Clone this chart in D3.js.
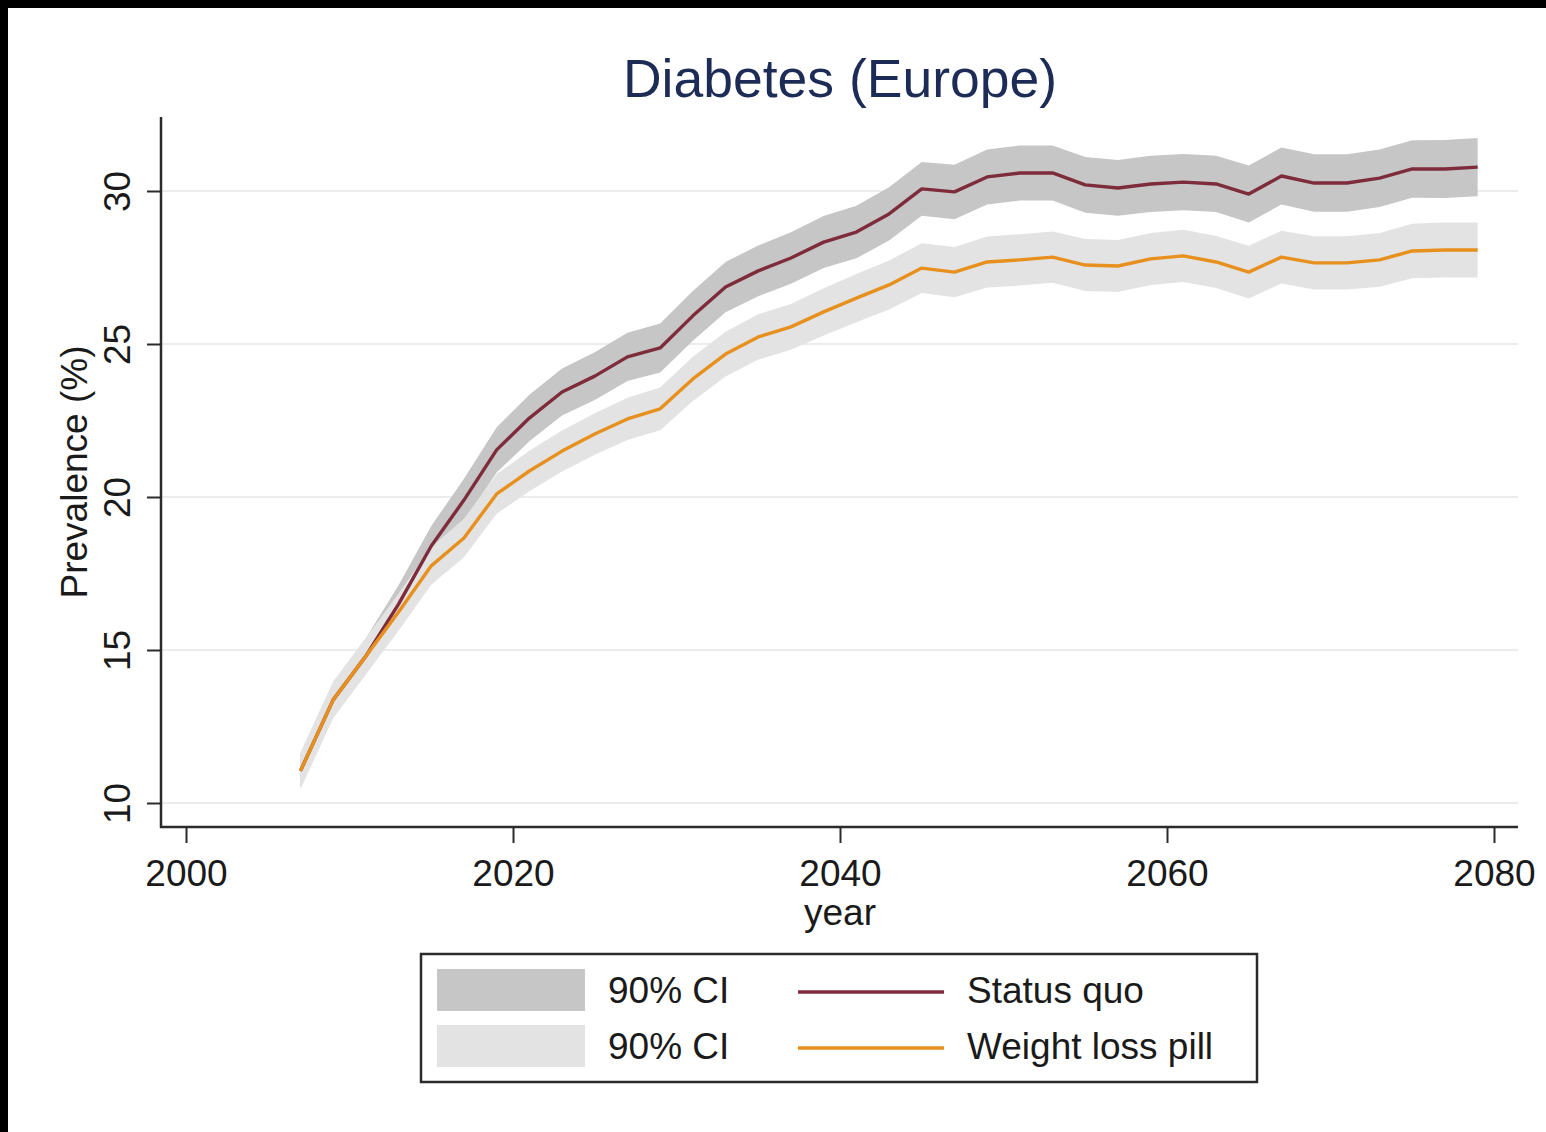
<!DOCTYPE html>
<html>
<head>
<meta charset="utf-8">
<script src="https://cdn.jsdelivr.net/npm/d3@7"></script>
<style>
  html, body { margin: 0; padding: 0; background: #fff; }
  svg { display: block; }
  text { font-family: "Liberation Sans", Arial, Helvetica, sans-serif; }
</style>
</head>
<body>
<svg id="chart" width="1546" height="1132"></svg>
<script>
// Simulated diabetes prevalence (%) in Europe, two scenarios, every other year
const years = [2007, 2009, 2011, 2013, 2015, 2017, 2019, 2021, 2023, 2025, 2027, 2029,
  2031, 2033, 2035, 2037, 2039, 2041, 2043, 2045, 2047, 2049, 2051, 2053, 2055, 2057,
  2059, 2061, 2063, 2065, 2067, 2069, 2071, 2073, 2075, 2077, 2079];

const statusQuo = [11.05, 13.37, 14.80, 16.50, 18.40, 19.90, 21.54, 22.58, 23.43, 23.95, 24.58, 24.87,
  25.92, 26.86, 27.39, 27.81, 28.33, 28.66, 29.25, 30.07, 29.97, 30.46, 30.59, 30.59, 30.20, 30.10,
  30.23, 30.29, 30.23, 29.90, 30.49, 30.26, 30.26, 30.42, 30.72, 30.72, 30.78];
const statusQuoLo = [10.50, 12.82, 14.22, 15.88, 17.75, 19.20, 20.80, 21.82, 22.66, 23.17, 23.79, 24.07,
  25.11, 26.04, 26.56, 26.97, 27.48, 27.80, 28.38, 29.19, 29.08, 29.56, 29.69, 29.69, 29.29, 29.19,
  29.31, 29.37, 29.31, 28.97, 29.56, 29.32, 29.32, 29.48, 29.78, 29.77, 29.83];
const statusQuoHi = [11.60, 13.92, 15.38, 17.12, 19.05, 20.60, 22.28, 23.34, 24.20, 24.73, 25.37, 25.67,
  26.73, 27.68, 28.22, 28.65, 29.18, 29.52, 30.12, 30.95, 30.86, 31.36, 31.49, 31.49, 31.11, 31.01,
  31.15, 31.21, 31.15, 30.83, 31.42, 31.20, 31.20, 31.36, 31.66, 31.67, 31.73];

const weightLossPill = [11.05, 13.37, 14.80, 16.24, 17.75, 18.66, 20.10, 20.85, 21.50, 22.06, 22.55, 22.88,
  23.86, 24.67, 25.23, 25.56, 26.05, 26.50, 26.93, 27.48, 27.35, 27.68, 27.75, 27.84, 27.58, 27.55,
  27.78, 27.88, 27.68, 27.35, 27.84, 27.65, 27.65, 27.75, 28.04, 28.07, 28.07];
const weightLossPillLo = [10.45, 12.77, 14.20, 15.63, 17.13, 18.03, 19.45, 20.19, 20.83, 21.38, 21.86, 22.18,
  23.14, 23.94, 24.49, 24.81, 25.28, 25.71, 26.13, 26.67, 26.53, 26.85, 26.91, 27.00, 26.73, 26.70,
  26.93, 27.03, 26.83, 26.49, 26.98, 26.78, 26.78, 26.87, 27.15, 27.17, 27.17];
const weightLossPillHi = [11.65, 13.97, 15.40, 16.85, 18.37, 19.29, 20.75, 21.51, 22.17, 22.74, 23.24, 23.58,
  24.58, 25.40, 25.97, 26.31, 26.82, 27.29, 27.73, 28.29, 28.17, 28.51, 28.59, 28.68, 28.43, 28.40,
  28.63, 28.73, 28.53, 28.21, 28.70, 28.52, 28.52, 28.63, 28.93, 28.97, 28.97];

const xTicks = [2000, 2020, 2040, 2060, 2080];
const yTicks = [10, 15, 20, 25, 30];

const titleText = "Diabetes (Europe)";
const xTitle = "year";
const yTitle = "Prevalence (%)";
const legendBands = ["90% CI", "90% CI"];
const legendLines = ["Status quo", "Weight loss pill"];

const C = {
  sqLine: "#7e2b3b",
  pillLine: "#e8901e",
  sqBand: "#c6c6c6",
  pillBand: "#e3e3e3",
  axis: "#2b2b2b",
  grid: "#ececec",
  title: "#1d2c56",
  text: "#1a1a1a"
};

const svg = d3.select("#chart");

// black frame strips along the top and left edges
svg.append("rect").attr("x", 0).attr("y", 0).attr("width", 1546).attr("height", 8).attr("fill", "#000");
svg.append("rect").attr("x", 0).attr("y", 0).attr("width", 8).attr("height", 1132).attr("fill", "#000");

// plot region
const plot = { left: 161, right: 1518, top: 117, bottom: 827 };

const x = d3.scaleLinear().domain([2000, 2080]).range([186, 1494]);
const y = d3.scaleLinear().domain([10, 30]).range([803, 191]);

// gridlines
svg.append("g").selectAll("line").data(yTicks).join("line")
  .attr("x1", plot.left).attr("x2", plot.right)
  .attr("y1", d => y(d)).attr("y2", d => y(d))
  .attr("stroke", C.grid).attr("stroke-width", 2);

const rows = years.map((yr, i) => ({
  year: yr,
  sq: statusQuo[i], sqLo: statusQuoLo[i], sqHi: statusQuoHi[i],
  wp: weightLossPill[i], wpLo: weightLossPillLo[i], wpHi: weightLossPillHi[i]
}));

const bandSq = d3.area().x(d => x(d.year)).y0(d => y(d.sqLo)).y1(d => y(d.sqHi));
const bandWp = d3.area().x(d => x(d.year)).y0(d => y(d.wpLo)).y1(d => y(d.wpHi));
const lineSq = d3.line().x(d => x(d.year)).y(d => y(d.sq));
const lineWp = d3.line().x(d => x(d.year)).y(d => y(d.wp));

svg.append("path").datum(rows).attr("d", bandSq).attr("fill", C.sqBand);
svg.append("path").datum(rows).attr("d", bandWp).attr("fill", C.pillBand);
svg.append("path").datum(rows).attr("d", lineSq)
  .attr("fill", "none").attr("stroke", C.sqLine).attr("stroke-width", 3.4).attr("stroke-linejoin", "round");
svg.append("path").datum(rows).attr("d", lineWp)
  .attr("fill", "none").attr("stroke", C.pillLine).attr("stroke-width", 3.4).attr("stroke-linejoin", "round");

// axes
const yAxis = d3.axisLeft(y).tickValues(yTicks).tickSize(14).tickPadding(14);
const xAxis = d3.axisBottom(x).tickValues(xTicks).tickFormat(d3.format("d")).tickSize(16).tickPadding(8);

const gy = svg.append("g").attr("transform", `translate(${plot.left},0)`).call(yAxis);
gy.select(".domain").remove();
gy.selectAll(".tick line").attr("stroke", C.axis).attr("stroke-width", 2);
gy.selectAll(".tick text")
  .attr("font-size", 37).attr("fill", C.text)
  .attr("transform", "translate(-44,0) rotate(-90)")
  .attr("x", 0).attr("dy", "0.35em").attr("text-anchor", "middle");

const gx = svg.append("g").attr("transform", `translate(0,${plot.bottom})`).call(xAxis);
gx.select(".domain").remove();
gx.selectAll(".tick line").attr("stroke", C.axis).attr("stroke-width", 2);
gx.selectAll(".tick text").attr("font-size", 37).attr("fill", C.text).attr("dy", "0.95em");

// axis lines
svg.append("line").attr("x1", plot.left).attr("x2", plot.left)
  .attr("y1", plot.top).attr("y2", plot.bottom + 1)
  .attr("stroke", C.axis).attr("stroke-width", 2.5);
svg.append("line").attr("x1", plot.left - 1).attr("x2", plot.right)
  .attr("y1", plot.bottom).attr("y2", plot.bottom)
  .attr("stroke", C.axis).attr("stroke-width", 2.5);

// titles
svg.append("text").attr("x", 840).attr("y", 97).attr("text-anchor", "middle")
  .attr("font-size", 53.5).attr("fill", C.title).text(titleText);
svg.append("text").attr("x", 840).attr("y", 925).attr("text-anchor", "middle")
  .attr("font-size", 37).attr("fill", C.text).text(xTitle);
svg.append("text").attr("transform", "translate(87,472) rotate(-90)").attr("text-anchor", "middle")
  .attr("font-size", 37).attr("fill", C.text).text(yTitle);

// legend
const lg = svg.append("g");
lg.append("rect").attr("x", 421).attr("y", 954).attr("width", 836).attr("height", 128)
  .attr("fill", "#fff").attr("stroke", C.axis).attr("stroke-width", 2.5);
const bandFills = [C.sqBand, C.pillBand];
const lineCols = [C.sqLine, C.pillLine];
const rowY = [990, 1046];
rowY.forEach((ry, i) => {
  lg.append("rect").attr("x", 437).attr("y", ry - 21).attr("width", 148).attr("height", 42).attr("fill", bandFills[i]);
  lg.append("text").attr("x", 608).attr("y", ry + 13).attr("font-size", 37).attr("fill", C.text).text(legendBands[i]);
  lg.append("line").attr("x1", 798).attr("x2", 944).attr("y1", ry + 2).attr("y2", ry + 2)
    .attr("stroke", lineCols[i]).attr("stroke-width", 3.4);
  lg.append("text").attr("x", 967).attr("y", ry + 13).attr("font-size", 37).attr("fill", C.text).text(legendLines[i]);
});
</script>
</body>
</html>
